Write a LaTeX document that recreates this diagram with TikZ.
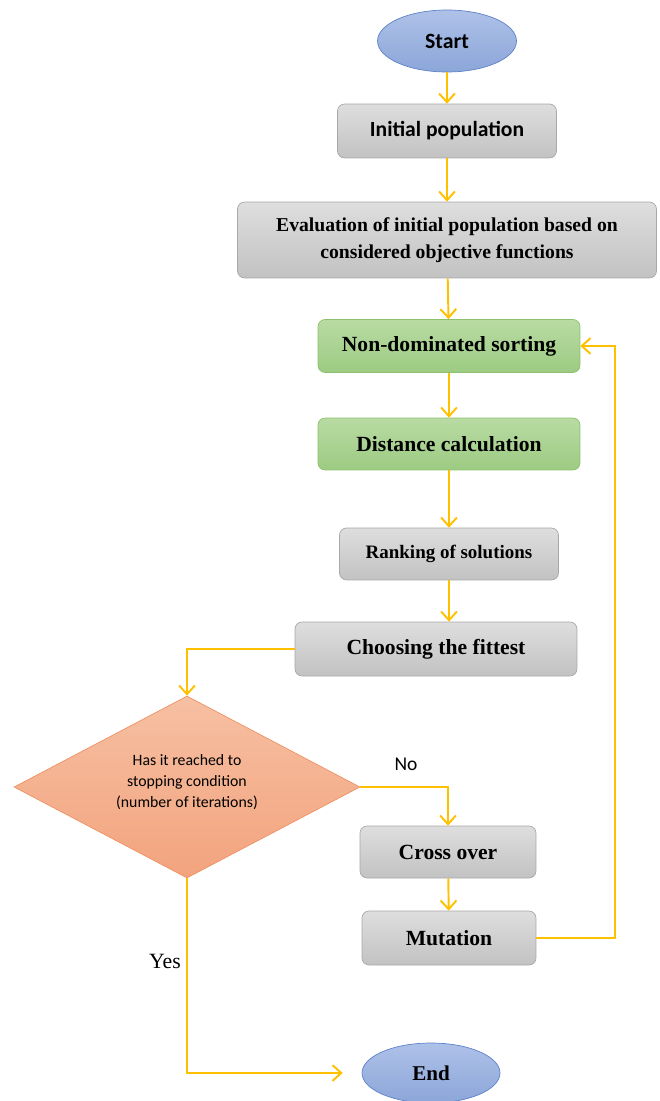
\documentclass[tikz,border=0pt]{standalone}
\usepackage{fontspec}
\setmainfont{Liberation Serif}
\newfontfamily\calibri{Carlito}
\usetikzlibrary{arrows.meta,shapes.geometric,shadings}

\definecolor{flowline}{HTML}{FFC000}
\definecolor{graytop}{HTML}{DEDEDE}
\definecolor{graybot}{HTML}{C2C2C2}
\definecolor{grayedge}{HTML}{A8A8A8}
\definecolor{greentop}{HTML}{B8DBA3}
\definecolor{greenbot}{HTML}{9DCB82}
\definecolor{greenedge}{HTML}{8DC06C}
\definecolor{bluetop}{HTML}{AEC1E8}
\definecolor{bluebot}{HTML}{8CA6D9}
\definecolor{blueedge}{HTML}{5E82C9}
\definecolor{orangetop}{HTML}{F6C0A2}
\definecolor{orangebot}{HTML}{F3A37E}
\definecolor{orangeedge}{HTML}{EE9264}

\tikzset{
  proc/.style={rectangle, rounded corners=4pt, draw=grayedge, top color=graytop, bottom color=graybot, inner sep=0pt, font=\bfseries\fontsize{12.3}{15}\selectfont},
  sortbox/.style={proc, draw=greenedge, top color=greentop, bottom color=greenbot},
  term/.style={ellipse, draw=blueedge, top color=bluetop, bottom color=bluebot, inner sep=0pt},
  decision/.style={diamond, draw=orangeedge, top color=orangetop, bottom color=orangebot, inner sep=0pt, aspect=1.9, minimum width=6.92cm, minimum height=3.64cm, align=center, font=\calibri\fontsize{9}{11.9}\selectfont},
  flow/.style={draw=flowline, line width=1.1pt, -{Straight Barb[length=5pt,width=9pt,line width=1.1pt]}},
}

\begin{document}
\begin{tikzpicture}[x=0.02cm, y=-0.02cm]
    \useasboundingbox (0,0) rectangle (659,1101);

    \node(start)[term, minimum width=2.78cm, minimum height=1.24cm, font=\calibri\bfseries\fontsize{12.4}{15}\selectfont] at (447,41) {Start};
    \node(init)[proc, minimum width=4.38cm, minimum height=1.08cm, font=\calibri\bfseries\fontsize{12.3}{15}\selectfont] at (447,131) {Initial population};
    \node(eval)[proc, minimum width=8.38cm, minimum height=1.52cm, align=center, font=\bfseries\fontsize{11.2}{15.3}\selectfont] at (447,240) {Evaluation of initial population based on\\considered objective functions};
    \node(nds)[sortbox, minimum width=5.24cm, minimum height=1.06cm] at (449,346) {Non-dominated sorting};
    \node(dist)[sortbox, minimum width=5.24cm, minimum height=1.04cm] at (449,444) {Distance calculation};
    \node(rank)[proc, minimum width=4.38cm, minimum height=1.04cm, font=\bfseries\fontsize{10.8}{13}\selectfont] at (449,554) {Ranking of solutions};
    \node(choose)[proc, minimum width=5.64cm, minimum height=1.08cm] at (436,649) {Choosing the fittest};
    \node(dec)[decision] at (187,787) {Has it reached to\\stopping condition\\(number of iterations)\\[-5pt]};
    \node(cross)[proc, minimum width=3.52cm, minimum height=1.04cm] at (448,852) {Cross over};
    \node(mut)[proc, minimum width=3.48cm, minimum height=1.08cm] at (449,938) {Mutation};
    \node(finish)[term, minimum width=2.76cm, minimum height=1.2cm, font=\bfseries\fontsize{12}{15}\selectfont] at (431,1073) {End};

    \node(no)[font=\calibri\fontsize{11.1}{13}\selectfont] at (406,764) {No};
    \node(yes)[font=\fontsize{12.4}{15}\selectfont] at (165,961) {Yes};
    \coordinate(loopx) at (615,0);

    \draw[flow] (start) -- (init);
    \draw[flow] (init) -- (eval);
    \draw[flow] (eval) -- (nds);
    \draw[flow] (nds) -- (dist);
    \draw[flow] (dist) -- (rank);
    \draw[flow] (rank.south) -- (rank.south |- choose.north);
    \draw[flow] (choose.west) -| (dec.north);
    \draw[flow] (dec.east) -| (cross.north);
    \draw[flow] (cross) -- (mut);
    \draw[flow] (mut.east) -- (mut.east -| loopx) |- (nds.east);
    \draw[flow, shorten >=0.38cm] (dec.south) |- (finish.west);

  \end{tikzpicture}
\end{document}
